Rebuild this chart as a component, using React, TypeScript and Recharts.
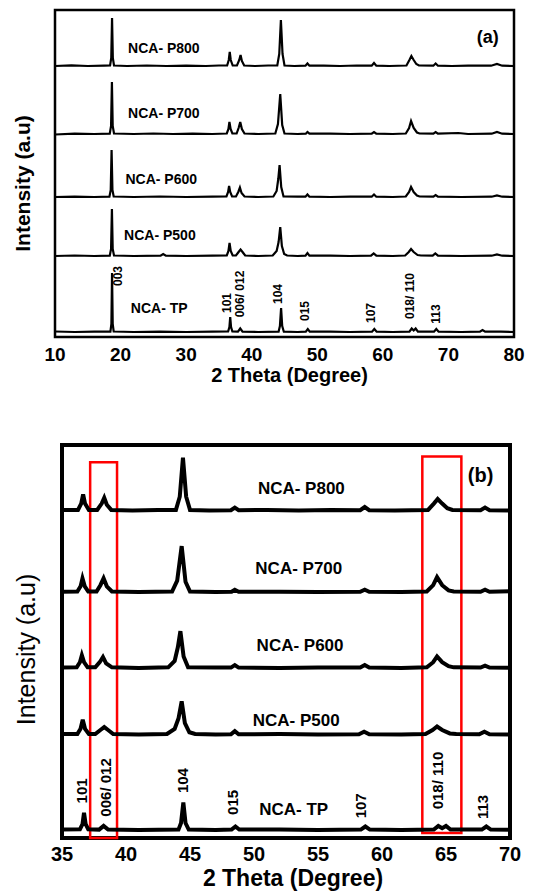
import React from 'react';
import { LineChart, Line, XAxis, YAxis, ReferenceArea, ReferenceDot } from 'recharts';

type Pt = [number, number];

// XRD patterns: [2θ (deg), intensity (a.u.)], baseline = 0
const p800: Pt[] = [
  [10, 0], [12.5, 0.6], [15, 0], [17.5, 0.4], [18.4, 0.5], [18.58, 8], [18.7, 48], [18.82, 8], [19.0, 0.5],
  [21, 0], [24, 0.5], [27, 0], [30, 0.4], [33, 0], [35, 0.5],
  [36.25, 0.5], [36.5, 6], [36.65, 14], [36.8, 6], [37.1, 0.5],
  [37.75, 0.5], [38.1, 6], [38.3, 11], [38.5, 5], [38.85, 0.5],
  [40.5, 0], [42.5, 0.5], [43.9, 0.5], [44.2, 12], [44.45, 46], [44.7, 12], [45.0, 0.5],
  [46.5, 0], [48.2, 0.3], [48.5, 2.5], [48.8, 0.3],
  [51, 0.4], [53.5, 0], [56, 0.5], [58.3, 0.3], [58.65, 3], [59.0, 0.3],
  [61, 0], [63.6, 0.5], [64.05, 6], [64.35, 10], [64.7, 6], [65.1, 2], [65.5, 0.5],
  [67.7, 0.3], [68.05, 2.5], [68.4, 0.3], [70.5, 0], [73, 0.4], [76.5, 0.3], [77.4, 2], [78.2, 0.3], [80, 0],
];

const p700: Pt[] = [
  [10, -0.5], [13, 0.3], [16, 0], [18.35, 0.3], [18.55, 8], [18.68, 52], [18.8, 8], [19.0, 0.5],
  [22, 0], [25, 0.5], [28, 0], [31, 0.4], [34, 0],
  [36.2, 0.5], [36.45, 5], [36.6, 12], [36.78, 5], [37.05, 0.5],
  [37.7, 0.5], [38.0, 6], [38.25, 12], [38.5, 5], [38.9, 0.5],
  [41, 0], [43.6, 0.5], [44.0, 10], [44.35, 40], [44.65, 9], [45.0, 0.5],
  [47, 0], [48.25, 0.3], [48.5, 2], [48.8, 0.3],
  [52, 0.4], [55, 0], [58.3, 0.3], [58.65, 2], [59.0, 0.3],
  [61.5, 0], [63.5, 0.5], [64.0, 6], [64.3, 13], [64.7, 6], [65.2, 1.5], [65.6, 0.5],
  [67.7, 0.3], [68.05, 2], [68.4, 0.3], [71.5, 1], [73, 0], [76.6, 0.3], [77.4, 2], [78.2, 0.3], [80, 0],
];

const p600: Pt[] = [
  [10, 0], [13, 0.4], [16, 0], [18.3, 0.3], [18.5, 7], [18.63, 47], [18.76, 7], [18.95, 0.5],
  [22, 0], [26, 0.5], [30, 0], [34, 0.4],
  [36.15, 0.5], [36.4, 5], [36.55, 11], [36.72, 5], [37.0, 0.5],
  [37.6, 0.5], [37.95, 5], [38.2, 9.5], [38.45, 4], [38.9, 0.5],
  [41, 0], [43.3, 0.5], [43.8, 6], [44.05, 18], [44.25, 32], [44.5, 10], [44.85, 0.5],
  [47, 0.3], [48.2, 0.3], [48.5, 2.5], [48.8, 0.3],
  [52, 0], [55, 0.4], [58.3, 0.3], [58.65, 2.5], [59.0, 0.3],
  [61.5, 0], [63.5, 0.5], [64.0, 5], [64.3, 10], [64.7, 5], [65.2, 1.5], [65.6, 0.5],
  [67.7, 0.3], [68.05, 2], [68.4, 0.3], [72, 0], [76.6, 0.3], [77.4, 1.5], [78.2, 0.3], [80, 0],
];

const p500: Pt[] = [
  [10, 0], [13, 0.5], [16, 0], [18.35, 0.3], [18.55, 7], [18.68, 47], [18.8, 7], [19.0, 0.5],
  [22, 0], [26.1, 0.3], [26.5, 2], [26.9, 0.3], [30, 0], [34, 0.4],
  [36.2, 0.5], [36.45, 5], [36.62, 13], [36.8, 5], [37.1, 0.5],
  [37.6, 0.5], [38.0, 4], [38.3, 6.5], [38.6, 4], [39.0, 0.5],
  [41, 0], [43.2, 0.5], [43.8, 5], [44.1, 14], [44.35, 29], [44.6, 10], [44.95, 2], [45.4, 0.5],
  [47, 0], [48.2, 0.3], [48.5, 3], [48.8, 0.3],
  [52, 0.4], [55, 0], [58.2, 0.3], [58.6, 2.5], [59.0, 0.3],
  [61.5, 0], [63.4, 0.5], [63.95, 4], [64.3, 7], [64.7, 4], [65.3, 1], [65.8, 0.5],
  [67.6, 0.3], [68.0, 2.5], [68.4, 0.3], [72, 0], [76.6, 0.3], [77.4, 1.5], [78.2, 0.3], [80, 0],
];

const pTP: Pt[] = [
  [10, 0.5], [13, 0], [16, 0.4], [18.45, 0.3], [18.6, 8], [18.7, 59], [18.8, 8], [18.95, 0.5],
  [22, 0], [26, 0.4], [30, 0], [34, 0.3],
  [36.4, 0.5], [36.6, 5], [36.72, 15], [36.85, 5], [37.05, 0.5],
  [37.9, 0.3], [38.25, 3.5], [38.6, 0.3],
  [41, 0], [44.1, 0.3], [44.3, 6], [44.48, 24], [44.65, 6], [44.9, 0.3],
  [47, 0], [48.25, 0.3], [48.55, 3], [48.85, 0.3],
  [52, 0.3], [55, 0], [58.35, 0.3], [58.7, 3], [59.05, 0.3],
  [61.5, 0], [64.05, 0.3], [64.4, 3.5], [64.7, 1.5], [65.0, 3.5], [65.35, 0.3],
  [67.8, 0.3], [68.15, 3], [68.5, 0.3], [72, 0], [74.8, 0.3], [75.2, 2], [75.6, 0.3], [78, 0.3], [80, 0],
];

const samples = ['NCA- P800', 'NCA- P700', 'NCA- P600', 'NCA- P500', 'NCA- TP'];
const patterns = [p800, p700, p600, p500, pTP];
const hkl = ['003', '101', '006/ 012', '104', '015', '107', '018/ 110', '113'];

const ticksA = [10, 20, 30, 40, 50, 60, 70, 80];
const ticksB = [35, 40, 45, 50, 55, 60, 65, 70];

// vertical stacking offsets (a.u.) per sample, top to bottom
const offsetsA = [271, 203, 140, 81, 5];
const offsetsB = [285, 214, 148, 90, 7];

// annotation anchors in data coords
const sampleLabelPosA: Pt[] = [[26.6, 289], [26.6, 224], [26.2, 158], [26.0, 102], [25.9, 29]];
const sampleLabelPosB: Pt[] = [[53.7, 305], [53.5, 235], [53.6, 168], [53.3, 103], [53.1, 25]];
const hklPosA: Pt[] = [[19.6, 61], [36.2, 34], [38.1, 43], [43.9, 43], [48.1, 26], [58.2, 24], [64.1, 41], [68.0, 23]];
const hklPosB: (Pt | null)[] = [null, [36.56, 41], [38.44, 44], [44.45, 50], [48.36, 31], [58.36, 28], [64.38, 50], [67.9, 27]];

const FONT = '"Liberation Sans", Arial, Helvetica, sans-serif';

const stack = (pts: Pt[], off: number) => pts.map(([x, y]) => ({ x, y: y + off }));

function textLabel(value: string, size: number, bold = true, angle = 0) {
  return {
    value,
    position: 'center' as const,
    angle,
    fontSize: size,
    fontWeight: bold ? 'bold' : 'normal',
    fontFamily: FONT,
    fill: '#000',
  };
}

function PanelA() {
  return (
    <LineChart width={549} height={400} margin={{ top: 10, right: 35, bottom: 33, left: 0 }} style={{ fontFamily: FONT }}>
      <XAxis
        type="number"
        dataKey="x"
        domain={[10, 80]}
        ticks={ticksA}
        allowDataOverflow
        height={30}
        axisLine={false}
        tickLine={false}
        tickMargin={5}
        tick={{ fontSize: 19, fontWeight: 'bold', fill: '#000', fontFamily: FONT }}
        label={{ value: '2 Theta (Degree)', position: 'bottom', offset: 1, dx: 5, fontSize: 20, fontWeight: 'bold', fill: '#000', fontFamily: FONT }}
      />
      <YAxis
        type="number"
        domain={[0, 327]}
        allowDataOverflow
        width={55}
        tick={false}
        axisLine={false}
        tickLine={false}
        label={{ value: 'Intensity (a.u)', position: 'center', angle: -90, dx: -5, dy: 10, fontSize: 21, fontWeight: 'bold', fill: '#000', fontFamily: FONT }}
      />
      <ReferenceArea x1={10} x2={80} y1={0} y2={327} fill="none" stroke="#000" strokeWidth={2.5} />
      {patterns.map((p, i) => (
        <Line
          key={samples[i]}
          data={stack(p, offsetsA[i])}
          dataKey="y"
          type="linear"
          stroke="#000"
          strokeWidth={2.2}
          dot={false}
          activeDot={false}
          isAnimationActive={false}
        />
      ))}
      {samples.map((s, i) => (
        <ReferenceDot key={s} x={sampleLabelPosA[i][0]} y={sampleLabelPosA[i][1]} r={0} fill="none" stroke="none" label={textLabel(s, 14)} />
      ))}
      {hkl.map((h, i) => (
        <ReferenceDot key={h} x={hklPosA[i][0]} y={hklPosA[i][1]} r={0} fill="none" stroke="none" label={textLabel(h, 12, true, -90)} />
      ))}
      <ReferenceDot x={76.0} y={300} r={0} fill="none" stroke="none" label={textLabel('(a)', 18)} />
    </LineChart>
  );
}

function PanelB() {
  return (
    <LineChart width={549} height={473} margin={{ top: 25, right: 39, bottom: 25, left: 0 }} style={{ fontFamily: FONT }}>
      <XAxis
        type="number"
        dataKey="x"
        domain={[35, 70]}
        ticks={ticksB}
        allowDataOverflow
        height={30}
        axisLine={false}
        tickLine={false}
        tickMargin={3}
        tick={{ fontSize: 20, fontWeight: 'bold', fill: '#000', fontFamily: FONT }}
        label={{ value: '2 Theta (Degree)', position: 'bottom', offset: 2, dx: 7, fontSize: 23, fontWeight: 'bold', fill: '#000', fontFamily: FONT }}
      />
      <YAxis
        type="number"
        domain={[0, 342]}
        allowDataOverflow
        width={62}
        tick={false}
        axisLine={false}
        tickLine={false}
        label={{ value: 'Intensity (a.u)', position: 'center', angle: -90, dx: -5, dy: 8, fontSize: 25, fontWeight: 'normal', fill: '#000', fontFamily: FONT }}
      />
      <ReferenceArea x1={35} x2={70} y1={0} y2={342} fill="none" stroke="#000" strokeWidth={4} />
      {patterns.map((p, i) => (
        <Line
          key={samples[i]}
          data={stack(p, offsetsB[i])}
          dataKey="y"
          type="linear"
          stroke="#000"
          strokeWidth={4}
          dot={false}
          activeDot={false}
          isAnimationActive={false}
        />
      ))}
      <ReferenceArea x1={37.2} x2={39.3} y1={0} y2={327} fill="none" stroke="#ff0000" strokeWidth={2.5} />
      <ReferenceArea x1={63.15} x2={66.2} y1={4.4} y2={332} fill="none" stroke="#ff0000" strokeWidth={2.5} />
      {samples.map((s, i) => (
        <ReferenceDot key={s} x={sampleLabelPosB[i][0]} y={sampleLabelPosB[i][1]} r={0} fill="none" stroke="none" label={textLabel(s, 17)} />
      ))}
      {hkl.map((h, i) => {
        const pos = hklPosB[i];
        if (!pos) return null;
        return <ReferenceDot key={h} x={pos[0]} y={pos[1]} r={0} fill="none" stroke="none" label={textLabel(h, 15, true, -90)} />;
      })}
      <ReferenceDot x={67.7} y={316} r={0} fill="none" stroke="none" label={textLabel('(b)', 20)} />
    </LineChart>
  );
}

export default function App() {
  return (
    <div style={{ position: 'absolute', left: 0, top: 0, width: 549, height: 893, background: '#fff' }}>
      <div style={{ position: 'absolute', left: 0, top: 0 }}>
        <PanelA />
      </div>
      <div style={{ position: 'absolute', left: 0, top: 420 }}>
        <PanelB />
      </div>
    </div>
  );
}
